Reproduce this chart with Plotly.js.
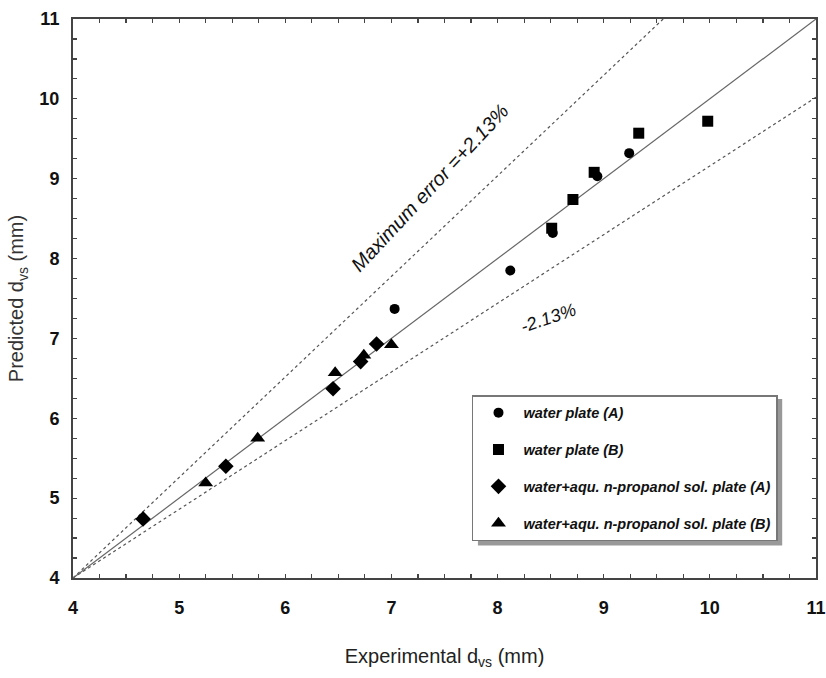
<!DOCTYPE html>
<html>
<head>
<meta charset="utf-8">
<script src="https://cdn.plot.ly/plotly-3.0.1.min.js"></script>
<style>html,body{margin:0;padding:0;background:#fff;}#chart{width:826px;height:678px;}</style>
</head>
<body>
<div id="chart"></div>
<script>
// Series data (Experimental dvs, Predicted dvs), mm
const waterA_x = [7.03, 8.12, 8.52, 8.94, 9.24];
const waterA_y = [7.37, 7.85, 8.32, 9.03, 9.32];
const waterB_x = [8.51, 8.71, 8.91, 9.33, 9.98];
const waterB_y = [8.38, 8.74, 9.08, 9.57, 9.72];
const propA_x = [4.66, 5.44, 6.45, 6.71, 6.86];
const propA_y = [4.74, 5.40, 6.37, 6.71, 6.93];
const propB_x = [5.25, 5.74, 6.47, 6.74, 7.00];
const propB_y = [5.19, 5.75, 6.57, 6.79, 6.92];
// Reference lines
const idealX = [4, 11];
const idealY = [4, 11];
const upperX = [4, 9.56];
const upperY = [4, 11];
const lowerX = [4, 11];
const lowerY = [4, 10.02];
const seriesNames = [
  "water plate (A)",
  "water plate (B)",
  "water+aqu. n-propanol sol. plate (A)",
  "water+aqu. n-propanol sol. plate (B)"
];
const tickVals = [4, 5, 6, 7, 8, 9, 10, 11];

const legFont = {family: "Liberation Sans, Arial, sans-serif", size: 14.5, color: "#111", weight: 700, style: "italic"};

function pts(x, y, name, symbol, size, grp) {
  return {x: x, y: y, name: name, mode: "markers", type: "scatter", legendgroup: grp,
    marker: {symbol: symbol, size: size, color: "#000"}, cliponaxis: false};
}
function line(x, y, dash, color) {
  return {x: x, y: y, mode: "lines", type: "scatter", showlegend: false, hoverinfo: "skip",
    line: {color: color, width: 1.2, dash: dash}};
}

const data = [
  line(upperX, upperY, "dot", "#555"),
  line(lowerX, lowerY, "dot", "#555"),
  line(idealX, idealY, "solid", "#666"),
  pts(waterA_x, waterA_y, seriesNames[0], "circle", 10, "g1"),
  pts(waterB_x, waterB_y, seriesNames[1], "square", 11, "g2"),
  pts(propA_x, propA_y, seriesNames[2], "diamond", 12, "g3"),
  pts(propB_x, propB_y, seriesNames[3], "triangle-up", 13, "g4")
];

const tickFont = {family: "Liberation Sans, Arial, sans-serif", size: 18, color: "#111", weight: 700};
const axisCommon = {
  range: [4, 11], tickvals: tickVals, ticktext: tickVals.map(String),
  showgrid: false, zeroline: false, showline: true, linecolor: "#444", linewidth: 2,
  mirror: "allticks", ticks: "inside", ticklen: 4, tickwidth: 1.2, tickcolor: "#444",
  minor: {dtick: 0.25, ticks: "inside", ticklen: 4, tickwidth: 1.2, tickcolor: "#444", showgrid: false},
  tickfont: tickFont
};

const layout = {
  width: 826, height: 678,
  margin: {l: 73, r: 10, t: 19, b: 100},
  paper_bgcolor: "#fff", plot_bgcolor: "#fff",
  xaxis: Object.assign({}, axisCommon, {
    ticklabelstandoff: 12,
    title: {text: "Experimental d<sub>vs</sub> (mm)", font: {family: "Liberation Sans, Arial, sans-serif", size: 20, color: "#222"}, standoff: 32}
  }),
  yaxis: Object.assign({}, axisCommon, {
    ticklabelstandoff: 8,
    title: {text: "Predicted d<sub>vs</sub> (mm)", font: {family: "Liberation Sans, Arial, sans-serif", size: 20, color: "#333"}, standoff: 10}
  }),
  showlegend: true,
  legend: {
    x: 0.537, y: 0.327, xanchor: "left", yanchor: "top",
    bgcolor: "#fff", bordercolor: "#777", borderwidth: 1.5,
    font: legFont, tracegroupgap: 15, itemwidth: 40,
    traceorder: "grouped"
  },
  shapes: [
    {type: "rect", xref: "paper", yref: "paper", x0: 0.545, x1: 0.9545, y0: 0.058, y1: 0.32,
      fillcolor: "#999", line: {width: 0}, layer: "above"}
  ],
  annotations: [
    {text: "<i>Maximum error =+2.13%</i>", x: 7.36, y: 8.88, xref: "x", yref: "y", showarrow: false,
      textangle: -47, font: {family: "Liberation Sans, Arial, sans-serif", size: 20, color: "#111"}},
    {text: "<i>-2.13%</i>", x: 8.48, y: 7.25, xref: "x", yref: "y", showarrow: false,
      textangle: -19, font: {family: "Liberation Sans, Arial, sans-serif", size: 18, color: "#111"}}
  ]
};

Plotly.newPlot("chart", data, layout, {displayModeBar: false, staticPlot: true});
</script>
</body>
</html>
